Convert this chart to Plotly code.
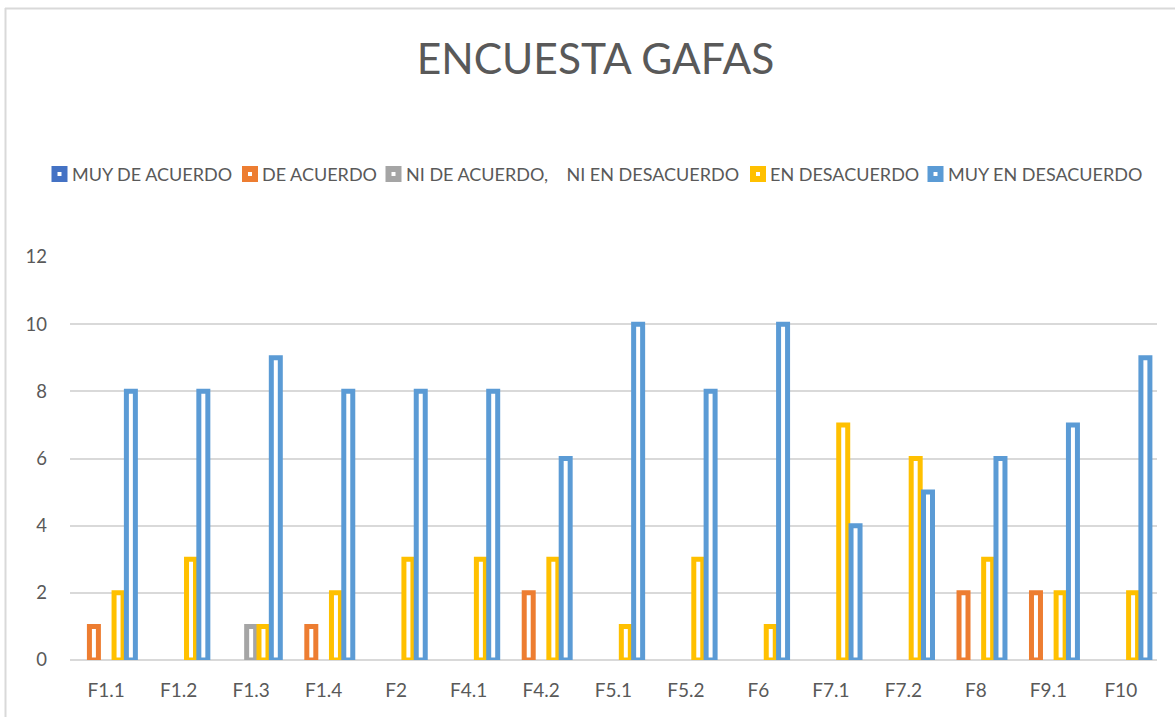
import plotly.graph_objects as go

categories = ["F1.1", "F1.2", "F1.3", "F1.4", "F2", "F4.1", "F4.2", "F5.1",
              "F5.2", "F6", "F7.1", "F7.2", "F8", "F9.1", "F10"]
muy_de_acuerdo = [0, 0, 0, 0, 0, 0, 0, 0, 0, 0, 0, 0, 0, 0, 0]
de_acuerdo = [1, 0, 0, 1, 0, 0, 2, 0, 0, 0, 0, 0, 2, 2, 0]
ni_ni = [0, 0, 1, 0, 0, 0, 0, 0, 0, 0, 0, 0, 0, 0, 0]
en_desacuerdo = [2, 3, 1, 2, 3, 3, 3, 1, 3, 1, 7, 6, 3, 2, 2]
muy_en_desacuerdo = [8, 8, 9, 8, 8, 8, 6, 10, 8, 10, 4, 5, 6, 7, 9]

series_names = ["MUY DE ACUERDO", "DE ACUERDO",
                "NI DE ACUERDO,\u00a0\u00a0\u00a0 NI EN DESACUERDO",
                "EN DESACUERDO", "MUY EN DESACUERDO"]
series_values = [muy_de_acuerdo, de_acuerdo, ni_ni, en_desacuerdo, muy_en_desacuerdo]
series_colors = ["#4472C4", "#ED7D31", "#A5A5A5", "#FFC000", "#5B9BD5"]

FONT = "Lato, 'Open Sans', sans-serif"
TXT = "#595959"
GRID = "#D9D9D9"

W, H = 1175, 717
L, R, T, B = 70, 1157, 257, 660


def px(x):
    return (x - L) / (R - L)


def py(y):
    return (B - y) / (B - T)


fig = go.Figure()
for name, vals, color in zip(series_names, series_values, series_colors):
    fig.add_trace(go.Bar(
        name=name,
        x=categories,
        y=[v if v != 0 else None for v in vals],
        marker=dict(color="white", line=dict(color=color, width=5)),
        showlegend=False,
    ))

# legend drawn Excel-style: small hollow squares + labels
legend_sq_left = [51.5, 242, 385.5, 750, 927.5]
shapes = []
annotations = []
for name, color, sx in zip(series_names, series_colors, legend_sq_left):
    cy = 174
    shapes.append(dict(type="rect", xref="paper", yref="paper",
                       x0=px(sx + 3), x1=px(sx + 13), y0=py(cy + 5), y1=py(cy - 5),
                       fillcolor="white", line=dict(color=color, width=6)))
    annotations.append(dict(text=name, xref="paper", yref="paper",
                            x=px(sx + 18), y=py(cy), xanchor="left", yanchor="middle",
                            showarrow=False, font=dict(size=18, color=TXT, family=FONT)))

# chart border
shapes.append(dict(type="line", xref="paper", yref="paper", x0=px(5.5), x1=px(5.5),
                   y0=py(8), y1=py(717), line=dict(color=GRID, width=2), layer="below"))
shapes.append(dict(type="line", xref="paper", yref="paper", x0=px(5), x1=px(1175),
                   y0=py(8.5), y1=py(8.5), line=dict(color=GRID, width=2), layer="below"))

fig.update_layout(
    width=W, height=H,
    margin=dict(l=L, r=W - R, t=T, b=H - B),
    paper_bgcolor="white", plot_bgcolor="white",
    barmode="group", bargap=0.15, bargroupgap=0.27,
    font=dict(family=FONT, color=TXT, size=18),
    showlegend=False,
    title=dict(text="ENCUESTA GAFAS", x=595.5 / W, xref="container", xanchor="center",
               y=1 - 59.5 / H, yref="container", yanchor="middle",
               font=dict(size=42.5, color=TXT, family=FONT)),
    xaxis=dict(showgrid=False, showline=False, ticks="",
               tickfont=dict(size=19, color=TXT), ticklabelstandoff=17,
               fixedrange=True),
    yaxis=dict(range=[0, 12], dtick=2, showgrid=True, gridcolor=GRID, gridwidth=1.5,
               zeroline=True, zerolinecolor=GRID, zerolinewidth=1.5,
               showline=False, ticks="", tickfont=dict(size=18.5, color=TXT),
               ticklabelstandoff=22, fixedrange=True),
    shapes=shapes,
    annotations=annotations,
)

fig.write_html("out.html", config={"displayModeBar": False},
               post_script="document.body.style.margin='0';")
